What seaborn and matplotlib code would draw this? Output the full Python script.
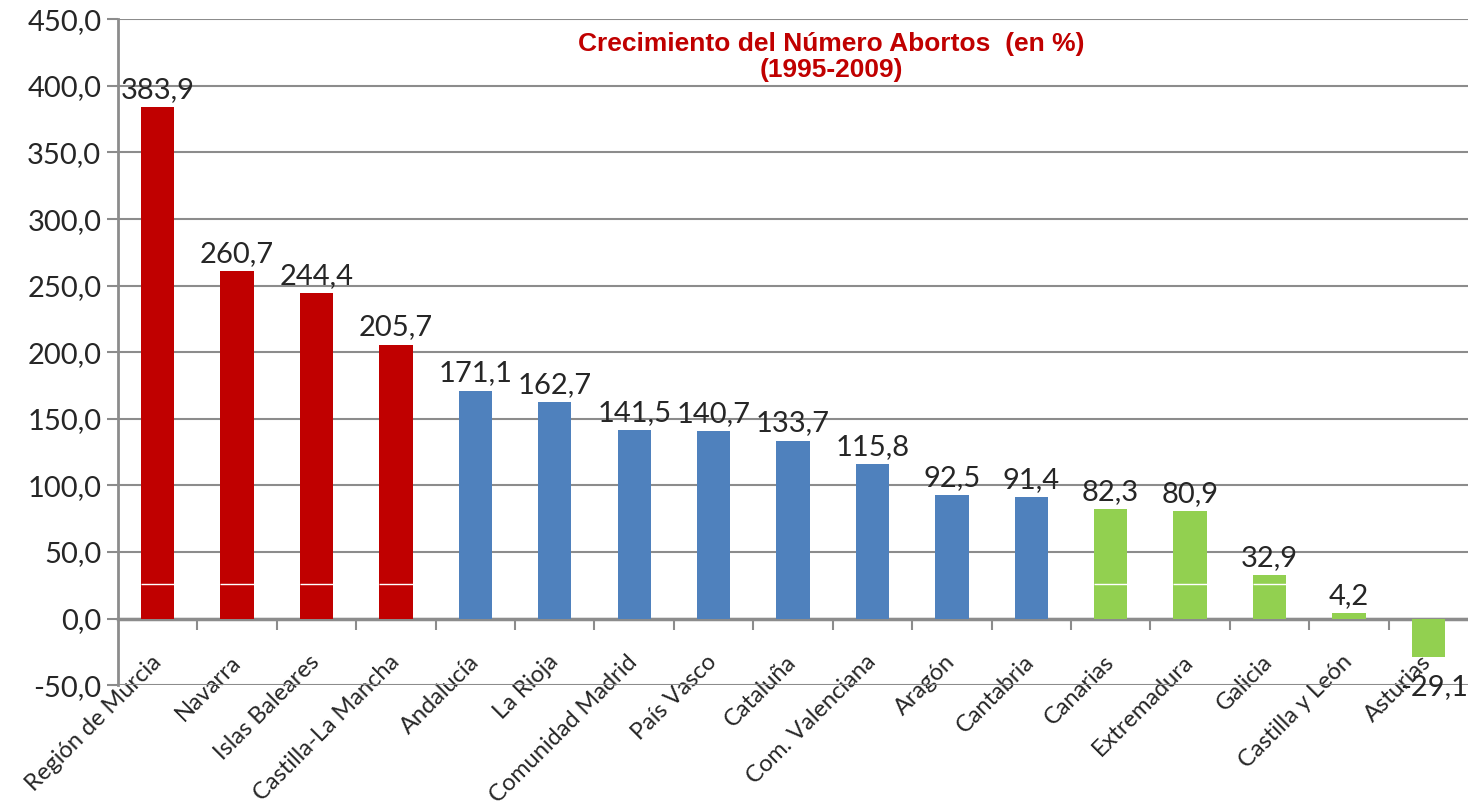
import matplotlib
matplotlib.use("Agg")
import matplotlib.pyplot as plt
from matplotlib.ticker import FuncFormatter, FixedLocator
import seaborn as sns
import pandas as pd

# Datos: crecimiento del número de abortos 1995-2009 (%)
regiones = ['Región de Murcia', 'Navarra', 'Islas Baleares', 'Castilla-La Mancha',
            'Andalucía', 'La Rioja', 'Comunidad Madrid', 'País Vasco', 'Cataluña',
            'Com. Valenciana', 'Aragón', 'Cantabria', 'Canarias', 'Extremadura',
            'Galicia', 'Castilla y León', 'Asturias']
crecimiento = [383.9, 260.7, 244.4, 205.7, 171.1, 162.7, 141.5, 140.7, 133.7,
               115.8, 92.5, 91.4, 82.3, 80.9, 32.9, 4.2, -29.1]
grupo = ['alto'] * 4 + ['medio'] * 8 + ['bajo'] * 5

colores = {'alto': '#C00000', 'medio': '#4F81BD', 'bajo': '#92D050'}
gris = '#8C8C8C'

df = pd.DataFrame({'region': regiones, 'valor': crecimiento, 'grupo': grupo})

sns.set_style('white')
plt.rcParams['font.family'] = ['Lato', 'DejaVu Sans']

fig = plt.figure(figsize=(14.68, 8.06), dpi=100)
ax = fig.add_axes([0.0804, 0.150, 0.9196, 0.826])

sns.barplot(data=df, x='region', y='valor', hue='grupo', palette=colores,
            dodge=False, width=0.42, legend=False, ax=ax, saturation=1, linewidth=0)

# línea blanca fina que aparece en las barras rojas y verdes
for p in ax.patches:
    if p.get_facecolor()[:3] != matplotlib.colors.to_rgb(colores['medio']) and p.get_height() > 26:
        ax.hlines(26, p.get_x(), p.get_x() + p.get_width(), color='white', lw=1, zorder=3)

for cont in ax.containers:
    anns = ax.bar_label(cont, labels=[f'{v:.1f}'.replace('.', ',') for v in cont.datavalues],
                        fontsize=21, padding=3)
    for ann, v in zip(anns, cont.datavalues):
        if v < 0:
            # etiqueta negativa desplazada a la derecha, como en el original
            ann.xyann = (4, -12)

ax.set_ylim(-50, 450)
ax.set_xlim(-0.5, len(regiones) - 0.5)
ax.yaxis.set_major_locator(FixedLocator(range(-50, 451, 50)))
ax.yaxis.set_major_formatter(FuncFormatter(lambda v, _: f'{v:.1f}'.replace('.', ',')))
ax.grid(axis='y', color=gris, lw=1.5, zorder=0)
ax.set_axisbelow(True)

for s in ['top', 'right', 'bottom']:
    ax.spines[s].set_visible(False)
ax.spines['left'].set_color(gris)
ax.spines['left'].set_linewidth(2)

ax.tick_params(axis='y', direction='out', length=8, width=1.5, color=gris,
               labelsize=21, left=True, pad=4)
ax.tick_params(axis='x', length=0, pad=-19)
for lab in ax.get_xticklabels():
    lab.set_rotation(45)
    lab.set_ha('right')
    lab.set_va('center')
    lab.set_rotation_mode('anchor')
    lab.set_fontsize(17)
ax.set_xlabel('')
ax.set_ylabel('')

# eje en cero con marcas entre categorías
eje0 = ax.secondary_xaxis(0.1)
eje0.set_xticks([i + 0.5 for i in range(len(regiones) - 1)])
eje0.set_xticklabels([])
eje0.tick_params(direction='out', length=8, width=1.5, color=gris)
eje0.spines['bottom'].set_color(gris)
eje0.spines['bottom'].set_linewidth(2.5)

fig.text(831 / 1468, 1 - 57 / 806, 'Crecimiento del Número Abortos  (en %)\n(1995-2009)',
         ha='center', va='center', fontsize=19, fontweight='bold', color='#C00000',
         family=['Liberation Sans', 'DejaVu Sans'], linespacing=1.1)

fig.savefig('out.png', dpi=100)
